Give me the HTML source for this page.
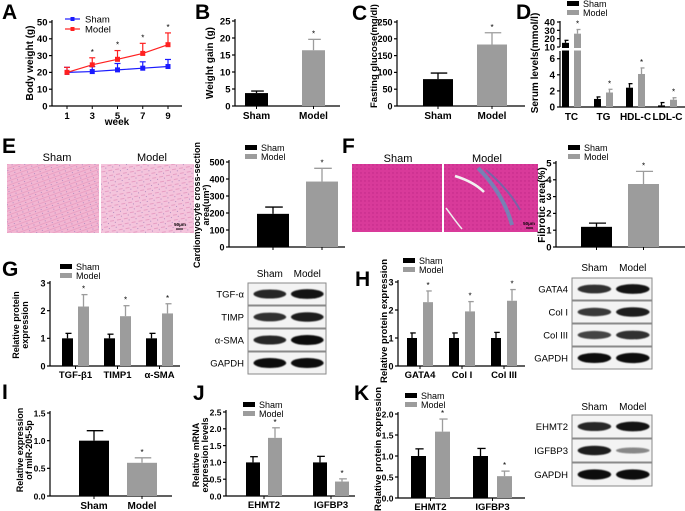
<!DOCTYPE html>
<html><head><meta charset="utf-8">
<style>
html,body{margin:0;padding:0;background:#fff;}
svg{display:block;font-family:"Liberation Sans",Arial,sans-serif;}
</style></head>
<body>
<svg id="fig" width="685" height="511" viewBox="0 0 685 511" xmlns="http://www.w3.org/2000/svg">
<defs>
<filter id="blur2"><feGaussianBlur stdDeviation="0.6"/></filter>
<pattern id="heTex" width="6" height="4" patternUnits="userSpaceOnUse" patternTransform="rotate(-20)">
<rect width="6" height="4" fill="#f2b6d2"/><line x1="0" y1="1" x2="6" y2="1" stroke="#e89cc0" stroke-width="0.8"/><circle cx="3" cy="3" r="0.5" fill="#a07ab8"/>
</pattern>
<pattern id="heTex2" width="7" height="5" patternUnits="userSpaceOnUse" patternTransform="rotate(-10)">
<rect width="7" height="5" fill="#f4c4dc"/><line x1="0" y1="2" x2="4" y2="2" stroke="#e59ac0" stroke-width="0.9"/><circle cx="5" cy="4" r="0.5" fill="#9a78b4"/>
</pattern>
<pattern id="mtTex" width="4" height="4" patternUnits="userSpaceOnUse">
<rect width="4" height="4" fill="#d93a9a"/><circle cx="1" cy="1" r="0.7" fill="#c02888"/>
</pattern>
</defs>
</svg>
<script>
// ===== Data =====
const groups = ['Sham','Model'];
const weeks = [1,3,5,7,9];
const shamWeight = [20,20.5,21.5,22.5,23.5];
const shamWeightErr = [3,3,3.8,3.8,4.2];
const modelWeight = [20,24.5,27.8,31.3,36.5];
const modelWeightErr = [3,4.2,5.2,6,7];
const weightTicks = [0,10,20,30,40,50];

const gainValues = [3.8,16.4];
const gainErr = [0.6,3.2];
const gainTicks = [0,5,10,15,20,25];

const glucoseValues = [80,183];
const glucoseErr = [18,35];
const glucoseTicks = [0,50,100,150,200,250];

const serumCats = ['TC','TG','HDL-C','LDL-C'];
const serumSham = [15,1.0,2.4,0.2];
const serumShamErr = [3,0.25,0.5,0.35];
const serumModel = [26,1.8,4.1,0.9];
const serumModelErr = [5,0.4,0.75,0.25];
const serumTicksLow = [0,2,4,6];
const serumTicksHigh = [10,20,30,40];

const cardioValues = [195,385];
const cardioErr = [40,78];
const cardioTicks = [0,100,200,300,400,500];

const fibroValues = [1.2,3.75];
const fibroErr = [0.22,0.75];
const fibroTicks = [0,1,2,3,4,5];

const gCats = ['TGF-β1','TIMP1','α-SMA'];
const gSham = [1,1,1];
const gShamErr = [0.18,0.15,0.18];
const gModel = [2.15,1.8,1.9];
const gModelErr = [0.43,0.38,0.35];
const gTicks = [0,1,2,3];

const hCats = ['GATA4','Col I','Col III'];
const hSham = [1,1,1];
const hShamErr = [0.18,0.18,0.2];
const hModel = [2.28,1.95,2.33];
const hModelErr = [0.4,0.35,0.4];
const hTicks = [0,1,2,3];

const iValues = [1.0,0.6];
const iErr = [0.18,0.09];
const iTicks = ['0.0','0.5','1.0','1.5'];

const jCats = ['EHMT2','IGFBP3'];
const jSham = [1,1];
const jShamErr = [0.17,0.18];
const jModel = [1.73,0.43];
const jModelErr = [0.3,0.08];
const jTicks = ['0.0','0.5','1.0','1.5','2.0','2.5'];

const kCats = ['EHMT2','IGFBP3'];
const kSham = [1,1];
const kShamErr = [0.17,0.18];
const kModel = [1.58,0.52];
const kModelErr = [0.3,0.12];
const kTicks = ['0.0','0.5','1.0','1.5','2.0'];

const gBlotRows = ['TGF-α','TIMP','α-SMA','GAPDH'];
const gBlotSham = [0.8,0.75,0.8,0.95];
const gBlotModel = [0.9,0.85,0.95,0.95];
const hBlotRows = ['GATA4','Col I','Col III','GAPDH'];
const hBlotSham = [0.75,0.7,0.65,0.95];
const hBlotModel = [0.9,0.85,0.75,0.98];
const kBlotRows = ['EHMT2','IGFBP3','GAPDH'];
const kBlotSham = [0.8,0.85,0.98];
const kBlotModel = [0.9,0.3,0.98];

// ===== Helpers =====
const svg = document.getElementById('fig');
const NS = 'http://www.w3.org/2000/svg';
const SHAM_C = '#000000', MODEL_C = '#9c9c9c';
function mk(tag, attrs, parent){
  const e = document.createElementNS(NS, tag);
  for (const k in attrs) e.setAttribute(k, attrs[k]);
  (parent||svg).appendChild(e);
  return e;
}
function txt(x,y,s,size,opts){
  opts = opts||{};
  const t = mk('text',{x:x,y:y,'font-size':size,'text-anchor':opts.anchor||'middle','font-weight':opts.bold===false?'normal':'bold',fill:'#000'});
  if (opts.rot) t.setAttribute('transform','rotate(-90 '+x+' '+y+')');
  t.textContent = s;
  return t;
}
function line(x1,y1,x2,y2,c,w){ return mk('line',{x1:x1,y1:y1,x2:x2,y2:y2,stroke:c||'#000','stroke-width':w||1}); }

function panelLetter(x,y,s,name){
  const t = txt(x,y,s,21,{anchor:'start'});
  
  
}
function legend(x,y,fs,name){
  const g = mk('g',{});
  
  
  mk('rect',{x:x,y:y-3,width:12,height:5,fill:SHAM_C},g);
  const t1 = txt(x+16,y+3,'Sham',fs||9,{anchor:'start',bold:false}); g.appendChild(t1);
  mk('rect',{x:x,y:y+6,width:12,height:5,fill:MODEL_C},g);
  const t2 = txt(x+16,y+12,'Model',fs||9,{anchor:'start',bold:false}); g.appendChild(t2);
}
function yAxis(ax,yOf,ticks,labels,top,bottom,name,fs){
  const g = mk('g',{});
  
  
  mk('line',{x1:ax,y1:top,x2:ax,y2:bottom,stroke:'#000','stroke-width':1.2},g);
  ticks.forEach((v,i)=>{
    const y = yOf(v);
    mk('line',{x1:ax-3,y1:y,x2:ax,y2:y,stroke:'#000','stroke-width':1.2},g);
    const t = txt(ax-4.5,y+3.3,labels[i],fs||9,{anchor:'end'}); g.appendChild(t);
  });
}
function bar(x,w,v,err,yOf,color,name,star){
  const g = mk('g',{});
  
  
  const y0 = yOf(0), y = yOf(v);
  mk('rect',{x:x,y:Math.min(y,y0),width:w,height:Math.abs(y0-y),fill:color},g);
  const ye = yOf(v+err), cx = x+w/2, cap = Math.max(4, w*0.55);
  mk('line',{x1:cx,y1:y,x2:cx,y2:ye,stroke:color,'stroke-width':1.3},g);
  mk('line',{x1:cx-cap/2+1,y1:ye,x2:cx+cap/2+1,y2:ye,stroke:color,'stroke-width':1.3},g);
  if (star){ const t = txt(cx,ye-3,'*',8,{bold:false}); g.appendChild(t); }
}
function xAxis(x1,x2,y,name){
  const l = line(x1,y,x2,y,'#000',1.2);
  
  
}
function twoBar(cfg, values, errs, prefix){
  const yOf = v => cfg.y0 - v/cfg.vmax*(cfg.y0-cfg.yTop);
  yAxis(cfg.ax, yOf, cfg.ticks, cfg.tickLabels||cfg.ticks.map(String), cfg.yTop-2, cfg.y0, prefix+'-y-axis', cfg.fs);
  xAxis(cfg.ax, cfg.axEnd, cfg.y0, prefix+'-x-axis');
  values.forEach((v,i)=>{
    const x = cfg.x0 + i*cfg.step;
    bar(x,cfg.w,v,errs[i],yOf,i===0?SHAM_C:MODEL_C,prefix+'-bar-'+groups[i].toLowerCase(),i===1);
    line(x+cfg.w/2,cfg.y0,x+cfg.w/2,cfg.y0+3);
    if (cfg.labels!==false){
      const t = txt(x+cfg.w/2,cfg.y0+(cfg.lblDy||13),groups[i],cfg.lfs||10);
      
      
    }
  });
}
function groupBar(cfg, cats, sv, se, mv, me, prefix){
  const yOf = v => cfg.y0 - v/cfg.vmax*(cfg.y0-cfg.yTop);
  yAxis(cfg.ax, yOf, cfg.ticks, cfg.tickLabels||cfg.ticks.map(String), cfg.yTop-2, cfg.y0, prefix+'-y-axis', cfg.fs);
  xAxis(cfg.ax, cfg.axEnd, cfg.y0, prefix+'-x-axis');
  cats.forEach((c,i)=>{
    const xs = cfg.x0 + i*cfg.step, xm = xs + cfg.moff;
    bar(xs,cfg.w,sv[i],se[i],yOf,SHAM_C,prefix+'-bar-sham-'+i,false);
    bar(xm,cfg.w,mv[i],me[i],yOf,MODEL_C,prefix+'-bar-model-'+i,true);
    const cx = (xs+xm+cfg.w)/2;
    line(cx,cfg.y0,cx,cfg.y0+3);
    const t = txt(cx,cfg.y0+(cfg.lblDy||12),c,cfg.lfs||9.5);
    
    
  });
}
function yTitle(x,y,lines,fs,name){
  const g = mk('g',{});
  
  
  lines.forEach((s,i)=>{ const t = txt(x+i*(fs),y,s,fs,{rot:true}); g.appendChild(t); });
}
function blot(x,y,w,rowH,rows,sham,model,hdrY,name){
  const g = mk('g',{});
  
  
  const h1 = txt(x+w*0.28,hdrY,'Sham',10,{bold:false}); g.appendChild(h1);
  const h2 = txt(x+w*0.76,hdrY,'Model',10,{bold:false}); g.appendChild(h2);
  rows.forEach((r,i)=>{
    const ry = y + i*(rowH+1);
    mk('rect',{x:x,y:ry,width:w,height:rowH,fill:'#f3f3f3',stroke:'#8a8a8a','stroke-width':1},g);
    const lt = txt(x-4,ry+rowH/2+3.5,r,9.5,{anchor:'end',bold:false}); g.appendChild(lt);
    [sham[i],model[i]].forEach((a,j)=>{
      const cx = x + w*(j===0?0.28:0.76);
      mk('ellipse',{cx:cx,cy:ry+rowH/2,rx:w*0.21,ry:2+a*3.2,fill:'#111','fill-opacity':Math.min(1,0.25+a*0.8),filter:'url(#blur2)'},g);
    });
  });
}
function histo(x,y,w,h,fill,name){
  const r = mk('rect',{x:x,y:y,width:w,height:h,fill:fill});
  
  
  return r;
}

// ===== Panel A =====
panelLetter(2,19,'A','panel-letter-a');
(function(){
  const ax=52, y0=106, xOf = w => 67 + (w-1)*101/8, yOf = v => y0 - v*1.68;
  yAxis(ax,yOf,weightTicks,weightTicks.map(String),20,y0,'a-y-axis',9.5);
  xAxis(ax,182,y0,'a-x-axis');
  weeks.forEach(w=>{ line(xOf(w),y0,xOf(w),y0+3); const t=txt(xOf(w),y0+13,String(w),9.5);   });
  const wt = txt(117,125,'week',10);  
  yTitle(33,63,['Body weight (g)'],10,'a-y-title');
  [[shamWeight,shamWeightErr,'#1a1aff','sham'],[modelWeight,modelWeightErr,'#ff2020','model']].forEach(([vals,errs,c,n])=>{
    const g = mk('g',{});
    
    
    mk('polyline',{points:weeks.map((w,i)=>xOf(w)+','+yOf(vals[i])).join(' '),fill:'none',stroke:c,'stroke-width':1.2},g);
    weeks.forEach((w,i)=>{
      const x=xOf(w), y=yOf(vals[i]), ye=yOf(vals[i]+errs[i]);
      mk('line',{x1:x,y1:y,x2:x,y2:ye,stroke:c,'stroke-width':1.2},g);
      mk('line',{x1:x-3,y1:ye,x2:x+3,y2:ye,stroke:c,'stroke-width':1.2},g);
      mk('rect',{x:x-2.5,y:y-2.5,width:5,height:5,fill:c},g);
      if (n==='model' && i>0){ const t=txt(x,ye-3,'*',8,{bold:false}); g.appendChild(t); }
    });
  });
  const lg = mk('g',{});
  
  
  mk('line',{x1:65,y1:19,x2:80,y2:19,stroke:'#1a1aff','stroke-width':1.2},lg);
  mk('rect',{x:70.5,y:17,width:4,height:4,fill:'#1a1aff'},lg);
  lg.appendChild(txt(85,22.5,'Sham',9.5,{anchor:'start',bold:false}));
  mk('line',{x1:65,y1:29,x2:80,y2:29,stroke:'#ff2020','stroke-width':1.2},lg);
  mk('rect',{x:70.5,y:27,width:4,height:4,fill:'#ff2020'},lg);
  lg.appendChild(txt(85,32.5,'Model',9.5,{anchor:'start',bold:false}));
})();

// ===== Panel B =====
panelLetter(195,19,'B','panel-letter-b');
twoBar({ax:235,axEnd:340,y0:106,yTop:21,vmax:25,ticks:gainTicks,x0:245,step:57,w:23,fs:9.5},gainValues,gainErr,'b');
yTitle(213,63,['Weight gain (g)'],10,'b-y-title');

// ===== Panel C =====
panelLetter(352,20,'C','panel-letter-c');
twoBar({ax:397,axEnd:525,y0:106,yTop:22,vmax:250,ticks:glucoseTicks,x0:423,step:54,w:30,fs:9},glucoseValues,glucoseErr,'c');
yTitle(377,56,['Fasting glucose(mg/dl)'],9.5,'c-y-title');

// ===== Panel D (broken axis) =====
panelLetter(516,19,'D','panel-letter-d');
legend(567,4,9,'d-legend');
(function(){
  const ax=560, y0=107;
  const yOf = v => v<=7 ? y0 - v*8.05 : (v<10 ? 47 : 47 - (v-10)*0.833);
  const g = mk('g',{});
  
  
  mk('line',{x1:ax,y1:y0,x2:ax,y2:51,stroke:'#000','stroke-width':1.2},g);
  mk('line',{x1:ax,y1:47,x2:ax,y2:21,stroke:'#000','stroke-width':1.2},g);
  serumTicksLow.concat(serumTicksHigh).forEach(v=>{
    const y=yOf(v);
    mk('line',{x1:ax-3,y1:y,x2:ax,y2:y,stroke:'#000','stroke-width':1.2},g);
    g.appendChild(txt(ax-5,y+3.5,String(v),v>=10?9.5:10,{anchor:'end'}));
  });
  xAxis(ax,685,y0,'d-x-axis');
  serumCats.forEach((c,i)=>{
    const xs = 562 + i*32, xm = xs+12;
    bar(xs,7,serumSham[i],serumShamErr[i],yOf,SHAM_C,'d-bar-sham-'+i,false);
    bar(xm,7,serumModel[i],serumModelErr[i],yOf,MODEL_C,'d-bar-model-'+i,true);
    const t = txt(xs+9.5,y0+13,c,10);  
  });
  mk('rect',{x:555,y:48,width:130,height:2.5,fill:'#fff'});
  yTitle(538,63,['Serum levels(mmol/l)'],10,'d-y-title');
})();

// ===== Panel E =====
panelLetter(2,153,'E','panel-letter-e');
txt(57,161,'Sham',11,{bold:false});
txt(152,161,'Model',11,{bold:false});
histo(7,164,92,69,'url(#heTex)','e-image-sham');
histo(101,164,93,69,'url(#heTex2)','e-image-model');
line(176,229,183,229,'#000',1); txt(180,226,'50μm',4.5,{bold:true});
legend(245,148,9,'e-legend');
twoBar({ax:229,axEnd:345,y0:247,yTop:162,vmax:500,ticks:cardioTicks,x0:257,step:49,w:32,fs:9,labels:false},cardioValues,cardioErr,'e');
yTitle(200,205,['Cardiomyocyte cross-section','area(um²)'],9,'e-y-title');

// ===== Panel F =====
panelLetter(342,153,'F','panel-letter-f');
txt(398,162,'Sham',11,{bold:false});
txt(487,162,'Model',11,{bold:false});
histo(352,164,90,68,'url(#mtTex)','f-image-sham');
histo(444,164,94,68,'url(#mtTex)','f-image-model');
(function(){
  const g = mk('g',{});
  
  
  mk('path',{d:'M478,168 C492,182 505,200 512,225',stroke:'#4f9fc0','stroke-width':4,fill:'none',opacity:0.7},g);
  mk('path',{d:'M486,170 C500,182 512,195 520,210',stroke:'#3b7fb0','stroke-width':2,fill:'none',opacity:0.6},g);
  mk('path',{d:'M455,176 C468,180 478,186 484,192',stroke:'#f2f2f2','stroke-width':2.5,fill:'none'},g);
  mk('path',{d:'M446,208 C452,216 456,222 462,229',stroke:'#eee','stroke-width':1.5,fill:'none'},g);
})();
line(526,228,533,228,'#000',1); txt(529,225,'50μm',4.5,{bold:true});
legend(568,148,9,'f-legend');
twoBar({ax:556,axEnd:685,y0:247,yTop:163,vmax:5,ticks:fibroTicks,x0:581,step:47,w:31,fs:9.5,labels:false},fibroValues,fibroErr,'f');
yTitle(545,205,['Fibrotic area(%)'],10,'f-y-title');

// ===== Panel G =====
panelLetter(2,276,'G','panel-letter-g');
legend(60,267,9,'g-legend');
groupBar({ax:50,axEnd:180,y0:366,yTop:283,vmax:3,ticks:gTicks,x0:62,step:42,w:11,moff:16,fs:9},gCats,gSham,gShamErr,gModel,gModelErr,'g');
yTitle(19,325,['Relative  protein','expression'],9,'g-y-title');
blot(248,283,78,22,gBlotRows,gBlotSham,gBlotModel,277,'g-western-blot');

// ===== Panel H =====
panelLetter(355,286,'H','panel-letter-h');
legend(403,261,9,'h-legend');
groupBar({ax:398,axEnd:525,y0:366,yTop:282,vmax:3,ticks:hTicks,x0:407,step:42,w:10,moff:16,fs:9},hCats,hSham,hShamErr,hModel,hModelErr,'h');
yTitle(387,321,['Relative  protein expression'],9.5,'h-y-title');
blot(572,278,80,22,hBlotRows,hBlotSham,hBlotModel,271,'h-western-blot');

// ===== Panel I =====
panelLetter(2,399,'I','panel-letter-i');
twoBar({ax:50,axEnd:172,y0:496,yTop:413,vmax:1.5,ticks:[0,0.5,1,1.5],tickLabels:iTicks,x0:79,step:48,w:30,fs:8.5},iValues,iErr,'i');
yTitle(23,450,['Relative expression','of miR-205-5p'],9,'i-y-title');

// ===== Panel J =====
panelLetter(193,400,'J','panel-letter-j');
legend(243,405,9,'j-legend');
groupBar({ax:226,axEnd:355,y0:496,yTop:412,vmax:2.5,ticks:[0,0.5,1,1.5,2,2.5],tickLabels:jTicks,x0:246,step:67,w:14,moff:22,fs:8.5},jCats,jSham,jShamErr,jModel,jModelErr,'j');
yTitle(199,455,['Relative mRNA','expression levels'],9,'j-y-title');

// ===== Panel K =====
panelLetter(354,400,'K','panel-letter-k');
legend(405,396,9,'k-legend');
groupBar({ax:398,axEnd:525,y0:498,yTop:414,vmax:2,ticks:[0,0.5,1,1.5,2],tickLabels:kTicks,x0:411,step:62,w:15,moff:24,fs:8.5},kCats,kSham,kShamErr,kModel,kModelErr,'k');
yTitle(381,449,['Relative  protein expression'],9.5,'k-y-title');
blot(572,415,80,23,kBlotRows,kBlotSham,kBlotModel,410,'k-western-blot');
</script>
</body></html>
